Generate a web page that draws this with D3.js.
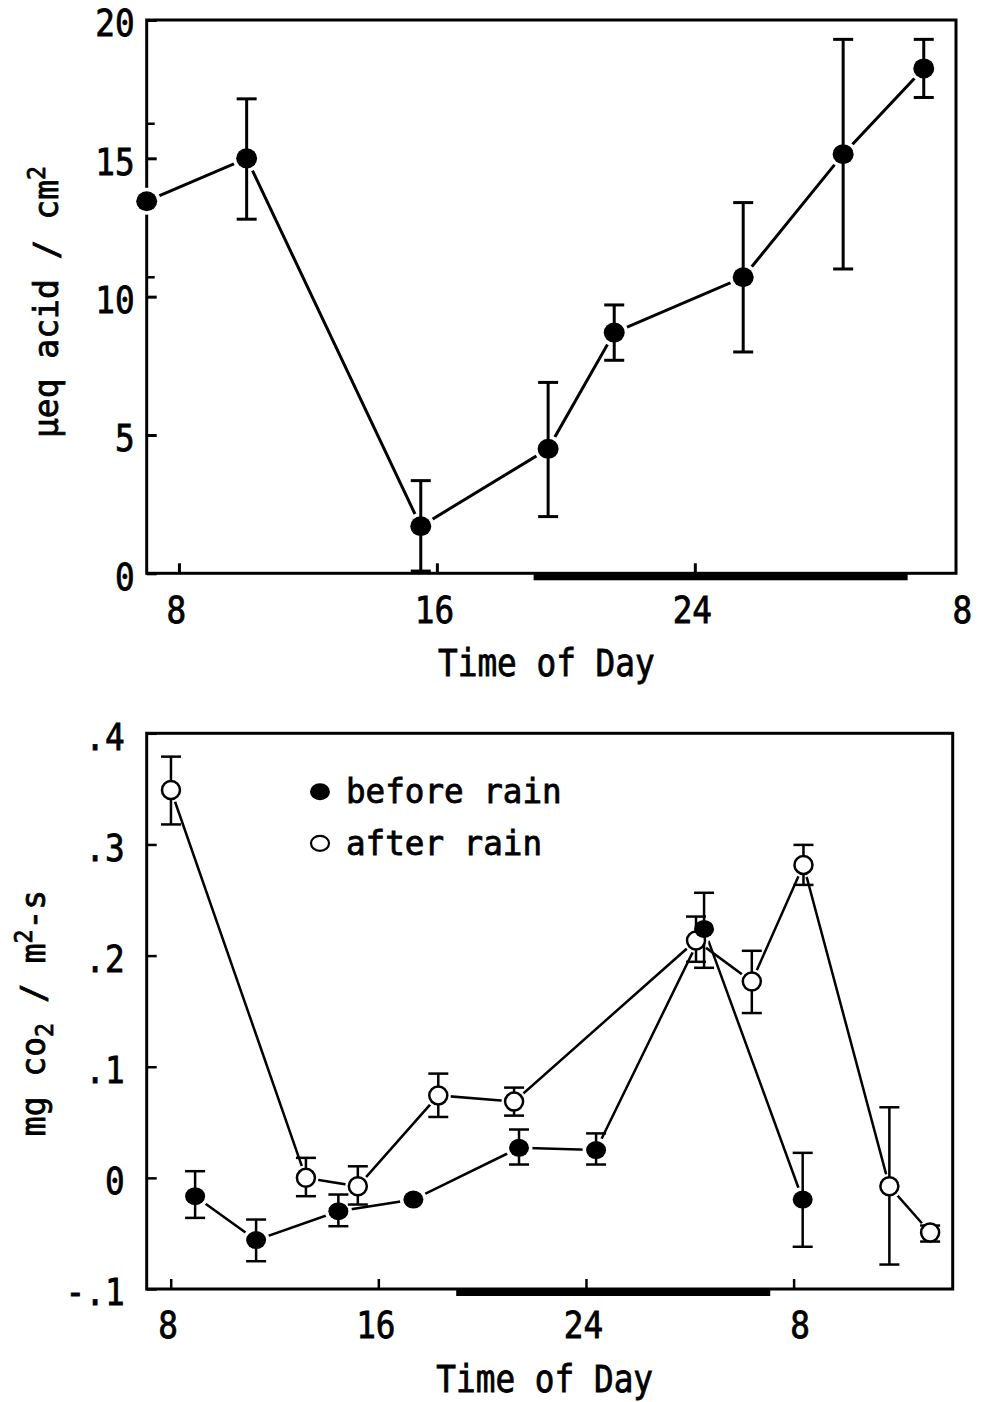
<!DOCTYPE html>
<html><head><meta charset="utf-8">
<script src="https://cdn.jsdelivr.net/npm/d3@7"></script>
<style>body{margin:0;background:#fff} svg{display:block} text{stroke:#000;stroke-width:0.8px}</style>
</head><body>
<svg id="chart" width="983" height="1402"></svg>
<script>
// ---------------- data ----------------
// Top panel: titratable acidity
const acidHours  = [7.0, 10.1, 15.5, 19.45, 21.5, 25.5, 28.6, 31.1];
const acidValues = [13.45, 15.0, 1.7, 4.5, 8.7, 10.7, 15.15, 18.25];
const acidUpper  = [null, 17.15, 3.35, 6.9, 9.7, 13.4, 19.3, 19.3];
const acidLower  = [null, 12.8, 0.08, 2.05, 7.7, 8.0, 11.0, 17.2];
const topXTicks = [8, 16, 24, 32];
const topXTickLabels = ["8", "16", "24", "8"];
const topYTicks = [0, 5, 10, 15, 20];
const topYMinorTicks = [16.25, 10.7];
const nightTop = [19, 30.6];
const topXTitle = "Time of Day";

// Bottom panel: CO2 exchange
const co2BeforeHours  = [8.94, 11.29, 14.46, 17.35, 21.42, 24.39, 28.55, 32.35];
const co2BeforeValues = [-0.0165, -0.056, -0.030, -0.0195, 0.027, 0.025, 0.224, -0.0195];
const co2BeforeUpper  = [0.006, -0.0375, -0.015, null, 0.0435, 0.040, 0.2565, 0.0225];
const co2BeforeLower  = [-0.036, -0.075, -0.0435, null, 0.012, 0.012, 0.189, -0.062];
const co2AfterHours  = [8.01, 13.21, 15.21, 18.31, 21.23, 28.24, 30.39, 32.38, 35.69, 37.26];
const co2AfterValues = [0.349, 0.0, -0.0076, 0.0742, 0.0686, 0.2136, 0.1767, 0.2816, -0.0076, -0.0492];
const co2AfterUpper  = [0.379, 0.018, 0.0104, 0.0938, 0.0812, 0.2351, 0.2043, 0.2996, 0.0635, -0.0429];
const co2AfterLower  = [0.318, -0.0165, -0.024, 0.0548, 0.056, 0.1944, 0.1483, 0.2636, -0.078, -0.0573];
const bottomXTicks = [8, 16, 24, 32];
const bottomXTickLabels = ["8", "16", "24", "8"];
const bottomYTicks = [-0.1, 0, 0.1, 0.2, 0.3, 0.4];
const bottomYTickLabels = ["-.1", "0", ".1", ".2", ".3", ".4"];
const nightBottom = [19, 31.1];
const legendLabels = ["before rain", "after rain"];
const bottomXTitle = "Time of Day";

// ---------------- drawing ----------------
const FONT = "'DejaVu Sans Mono', 'Liberation Mono', monospace";
const CHAR_W = 19.7;
const svg = d3.select("#chart");

function zip(h, v, u, l) { return h.map((d, i) => ({x: d, y: v[i], hi: u[i], lo: l[i]})); }

function panel(cfg) {
  const g = svg.append("g");
  const x = d3.scaleLinear().domain(cfg.xDomain).range([cfg.left, cfg.right]);
  const y = d3.scaleLinear().domain(cfg.yDomain).range([cfg.bottom, cfg.top]);

  const xa = g.append("g").attr("transform", `translate(0,${cfg.bottom})`)
    .call(d3.axisBottom(x).tickValues(cfg.xTicks).tickSizeInner(-10).tickSizeOuter(0)
      .tickPadding(23).tickFormat((d, i) => cfg.xLabels[i]));
  xa.select(".domain").remove();
  xa.attr("font-family", FONT).attr("font-size", 37);
  xa.selectAll("line").attr("stroke", "#000").attr("stroke-width", cfg.sw)
    .filter(d => d === cfg.xTicks[cfg.xTicks.length - 1] && cfg.hideLastTick).remove();
  xa.selectAll("text").attr("fill", "#000")
    .attr("textLength", function() { return this.textContent.length * CHAR_W; })
    .attr("lengthAdjust", "spacingAndGlyphs")
    .attr("dx", (d, i) => i === cfg.xTicks.length - 1 ? cfg.lastDx : -3);

  const ya = g.append("g").attr("transform", `translate(${cfg.left},0)`)
    .call(d3.axisLeft(y).tickValues(cfg.yTicks).tickSizeInner(-10).tickSizeOuter(0)
      .tickPadding(cfg.yPad).tickFormat((d, i) => cfg.yLabels[i]));
  ya.select(".domain").remove();
  ya.attr("font-family", FONT).attr("font-size", 37);
  ya.selectAll("line").attr("stroke", "#000").attr("stroke-width", cfg.sw);
  ya.selectAll("text").attr("fill", "#000").attr("dy", "0.43em")
    .attr("textLength", function() { return this.textContent.length * CHAR_W; })
    .attr("lengthAdjust", "spacingAndGlyphs");

  if (cfg.yMinor) {
    g.append("g").selectAll("line").data(cfg.yMinor).join("line")
      .attr("x1", cfg.left).attr("x2", cfg.left + 8)
      .attr("y1", d => y(d)).attr("y2", d => y(d))
      .attr("stroke", "#000").attr("stroke-width", 2.5);
  }

  g.append("rect").attr("x", x(cfg.night[0])).attr("width", x(cfg.night[1]) - x(cfg.night[0]))
    .attr("y", cfg.bottom - 1).attr("height", 8).attr("fill", "#000");

  g.append("rect").attr("x", cfg.left).attr("y", cfg.top)
    .attr("width", cfg.right - cfg.left).attr("height", cfg.bottom - cfg.top)
    .attr("fill", "none").attr("stroke", "#000").attr("stroke-width", 3);

  g.append("text").attr("x", (cfg.left + cfg.right) / 2 - 5).attr("y", cfg.bottom + 103)
    .attr("text-anchor", "middle").attr("font-family", FONT).attr("font-size", 37)
    .attr("textLength", cfg.xTitle.length * CHAR_W).attr("lengthAdjust", "spacingAndGlyphs")
    .text(cfg.xTitle);

  return {g, x, y};
}

function drawSeries(p, data, opt) {
  const line = d3.line().x(d => p.x(d.x)).y(d => p.y(d.y));
  p.g.append("path").datum(data).attr("d", line).attr("fill", "none")
    .attr("stroke", "#000").attr("stroke-width", opt.lw);
}
function drawHalo(p, data, opt) {
  p.g.append("g").selectAll("ellipse").data(data).join("ellipse")
    .attr("cx", d => p.x(d.x)).attr("cy", d => p.y(d.y))
    .attr("rx", opt.rx + 3.5).attr("ry", opt.ry + 3.5).attr("fill", "#fff");
}
function drawErr(p, data, opt) {
  const eg = p.g.append("g").attr("stroke", "#000").attr("stroke-width", opt.ew);
  const d2 = data.filter(d => d.hi !== null);
  eg.append("g").selectAll("line").data(d2).join("line")
    .attr("x1", d => p.x(d.x)).attr("x2", d => p.x(d.x))
    .attr("y1", d => p.y(d.hi)).attr("y2", d => p.y(d.lo));
  eg.append("g").selectAll("line").data(d2).join("line")
    .attr("x1", d => p.x(d.x) - opt.cap).attr("x2", d => p.x(d.x) + opt.cap)
    .attr("y1", d => p.y(d.hi)).attr("y2", d => p.y(d.hi));
  eg.append("g").selectAll("line").data(d2).join("line")
    .attr("x1", d => p.x(d.x) - opt.cap).attr("x2", d => p.x(d.x) + opt.cap)
    .attr("y1", d => p.y(d.lo)).attr("y2", d => p.y(d.lo));
}
function drawMarkers(p, data, opt) {
  p.g.append("g").selectAll("ellipse").data(data).join("ellipse")
    .attr("cx", d => p.x(d.x)).attr("cy", d => p.y(d.y))
    .attr("rx", opt.rx).attr("ry", opt.ry)
    .attr("fill", opt.open ? "#fff" : "#000")
    .attr("stroke", "#000").attr("stroke-width", opt.open ? 2.5 : 0);
}

// ---- top panel ----
const topPanel = panel({
  left: 146.7, right: 956, top: 20, bottom: 573.3,
  xDomain: [7, 32.1], yDomain: [0, 20],
  xTicks: topXTicks, xLabels: topXTickLabels, hideLastTick: true, lastDx: 9,
  yTicks: topYTicks, yLabels: topYTicks.map(String), yPad: 12, yMinor: topYMinorTicks,
  night: nightTop, sw: 3, xTitle: topXTitle
});
const acid = zip(acidHours, acidValues, acidUpper, acidLower);
const topOpt = {lw: 3, ew: 3, cap: 10, rx: 10.5, ry: 10};
drawSeries(topPanel, acid, topOpt);
drawHalo(topPanel, acid, topOpt);
drawErr(topPanel, acid, topOpt);
drawMarkers(topPanel, acid, topOpt);

const tt = svg.append("text").attr("font-family", FONT).attr("font-size", 34)
  .attr("text-anchor", "middle")
  .attr("transform", "translate(58,302) rotate(-90) scale(0.97,1)");
tt.append("tspan").text("\u03bceq acid / cm");
tt.append("tspan").attr("font-size", 24).attr("dy", -13).text("2");

// ---- bottom panel ----
const botPanel = panel({
  left: 146.7, right: 952.7, top: 733.3, bottom: 1289,
  xDomain: [7.075, 38.13], yDomain: [-0.1, 0.4],
  xTicks: bottomXTicks, xLabels: bottomXTickLabels, hideLastTick: false, lastDx: 6,
  yTicks: bottomYTicks, yLabels: bottomYTickLabels, yPad: 22,
  night: nightBottom, sw: 2.5, xTitle: bottomXTitle
});
const before = zip(co2BeforeHours, co2BeforeValues, co2BeforeUpper, co2BeforeLower);
const after = zip(co2AfterHours, co2AfterValues, co2AfterUpper, co2AfterLower);
const bOpt = {lw: 2.5, ew: 2.5, cap: 10, rx: 10, ry: 9};
const aOpt = {lw: 2.5, ew: 2.5, cap: 10, rx: 9, ry: 9, open: true};
drawSeries(botPanel, after, aOpt);
drawSeries(botPanel, before, bOpt);
drawHalo(botPanel, after, aOpt);
drawHalo(botPanel, before, bOpt);
drawErr(botPanel, after, aOpt);
drawErr(botPanel, before, bOpt);
drawMarkers(botPanel, after, aOpt);
drawMarkers(botPanel, before, bOpt);

const bt = svg.append("text").attr("font-family", FONT).attr("font-size", 34)
  .attr("text-anchor", "middle")
  .attr("transform", "translate(45,1013) rotate(-90) scale(0.97,1)");
bt.append("tspan").text("mg co");
bt.append("tspan").attr("font-size", 24).attr("dy", 8).text("2");
bt.append("tspan").attr("dy", -8).text(" / m");
bt.append("tspan").attr("font-size", 24).attr("dy", -13).text("2");
bt.append("tspan").attr("dy", 13).text("-s");

const leg = svg.append("g");
const legMarks = [{open: false, rx: 10, ry: 8.5}, {open: true, rx: 9, ry: 7.5}];
legendLabels.forEach((lab, i) => {
  const cy = 791.7 + i * 51.6;
  leg.append("ellipse").attr("cx", 320).attr("cy", cy)
    .attr("rx", legMarks[i].rx).attr("ry", legMarks[i].ry)
    .attr("fill", legMarks[i].open ? "#fff" : "#000")
    .attr("stroke", "#000").attr("stroke-width", legMarks[i].open ? 2.2 : 0);
  leg.append("text").attr("x", 346).attr("y", cy + 11.7)
    .attr("font-family", FONT).attr("font-size", 33)
    .attr("textLength", lab.length * 19.6).attr("lengthAdjust", "spacingAndGlyphs")
    .text(lab);
});
</script>
</body></html>
